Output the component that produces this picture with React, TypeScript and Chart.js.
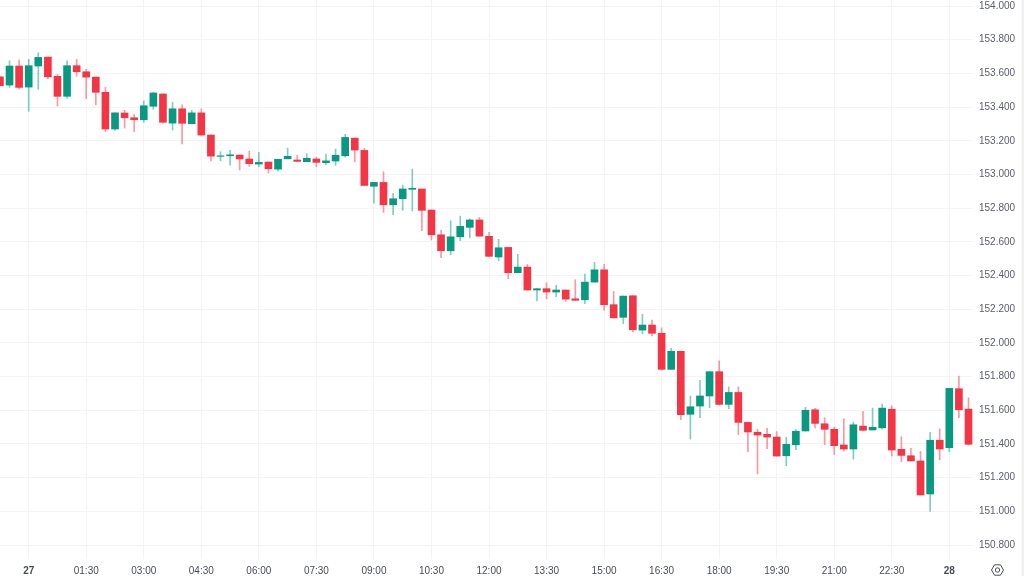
import React, { useEffect, useRef } from "react";
import { Chart, registerables } from "chart.js";

Chart.register(...registerables);

const firstCandleIndex = -3;
const opens = [153.580,153.531,153.644,153.519,153.644,153.697,153.583,153.464,153.646,153.610,153.578,153.488,153.270,153.365,153.337,153.325,153.405,153.478,153.305,153.390,153.301,153.366,153.234,153.108,153.111,153.115,153.092,153.062,153.074,153.032,153.093,153.086,153.076,153.092,153.070,153.080,153.111,153.216,153.143,152.930,152.953,152.820,152.856,152.912,152.914,152.789,152.642,152.547,152.630,152.686,152.730,152.633,152.510,152.567,152.417,152.450,152.314,152.322,152.302,152.314,152.262,152.256,152.361,152.434,152.227,152.152,152.280,152.076,152.106,152.057,151.843,151.950,151.576,151.625,151.685,151.829,151.635,151.706,151.528,151.469,151.457,151.441,151.330,151.395,151.477,151.603,151.520,151.487,151.394,151.370,151.506,151.483,151.496,151.606,151.368,151.330,151.299,151.103,151.422,151.378,151.728,151.607];
const closes = [153.527,153.644,153.517,153.646,153.695,153.580,153.464,153.646,153.610,153.578,153.488,153.270,153.366,153.337,153.325,153.408,153.484,153.310,153.390,153.304,153.366,153.234,153.109,153.111,153.117,153.092,153.064,153.072,153.034,153.090,153.108,153.078,153.096,153.072,153.081,153.114,153.220,153.145,152.935,152.953,152.820,152.856,152.914,152.918,152.787,152.642,152.547,152.630,152.692,152.730,152.634,152.514,152.565,152.417,152.450,152.314,152.322,152.302,152.314,152.260,152.253,152.361,152.434,152.227,152.149,152.278,152.078,152.106,152.057,151.843,151.950,151.574,151.621,151.685,151.829,151.635,151.706,151.528,151.471,151.453,151.441,151.328,151.398,151.475,151.600,151.522,151.487,151.390,151.370,151.514,151.481,151.499,151.613,151.364,151.332,151.299,151.097,151.422,151.370,151.730,151.603,151.398];
const highs = [153.580,153.675,153.679,153.684,153.723,153.697,153.594,153.675,153.684,153.624,153.578,153.517,153.366,153.381,153.357,153.436,153.489,153.478,153.428,153.414,153.381,153.390,153.234,153.135,153.143,153.115,153.139,153.131,153.074,153.090,153.157,153.114,153.123,153.102,153.121,153.151,153.238,153.216,153.155,152.953,153.016,152.888,152.937,153.032,152.914,152.789,152.668,152.725,152.753,152.737,152.745,152.656,152.615,152.567,152.526,152.467,152.322,152.357,152.342,152.314,152.375,152.409,152.478,152.467,152.306,152.278,152.280,152.170,152.136,152.090,151.968,151.950,151.685,151.778,151.829,151.894,151.738,151.738,151.528,151.487,151.493,151.473,151.439,151.487,151.618,151.612,151.556,151.500,151.550,151.530,151.594,151.613,151.637,151.627,151.443,151.374,151.356,151.469,151.490,151.730,151.803,151.674];
const lows = [153.527,153.517,153.507,153.375,153.505,153.567,153.406,153.452,153.584,153.450,153.414,153.254,153.262,153.276,153.254,153.310,153.387,153.305,153.264,153.181,153.301,153.234,153.081,153.081,153.056,153.026,153.048,153.046,153.009,153.020,153.093,153.078,153.076,153.046,153.058,153.054,153.105,153.074,152.935,152.830,152.775,152.761,152.787,152.783,152.666,152.611,152.506,152.523,152.607,152.624,152.634,152.514,152.488,152.381,152.417,152.314,152.250,152.262,152.274,152.247,152.253,152.233,152.361,152.195,152.146,152.114,152.066,152.054,152.041,151.843,151.843,151.544,151.429,151.556,151.615,151.631,151.609,151.455,151.354,151.222,151.372,151.328,151.271,151.366,151.477,151.496,151.395,151.338,151.358,151.309,151.477,151.483,151.489,151.328,151.295,151.299,151.097,151.000,151.305,151.354,151.556,151.394];

const timeTickIndices = [0,6,12,18,24,30,36,42,48,54,60,66,72,78,84,90,96];
const timeTickLabels = ["27","01:30","03:00","04:30","06:00","07:30","09:00","10:30","12:00","13:30","15:00","16:30","18:00","19:30","21:00","22:30","28"];
const boldTimeLabels = ["27","28"];
const priceTicks = [150.8,151,151.2,151.4,151.6,151.8,152,152.2,152.4,152.6,152.8,153,153.2,153.4,153.6,153.8,154];

const UP = "#089981";
const DOWN = "#f23645";
const UP_WICK = "rgba(8,153,129,0.5)";
const DOWN_WICK = "rgba(242,54,69,0.5)";
const GRID = "#f3f4f6";
const FONT = "'Liberation Sans', Arial, sans-serif";

const decorations = {
  id: "decorations",
  afterDraw(chart: any) {
    const c = chart.ctx;
    const cx = 997.5, cy = 570, r = 6;
    c.save();
    c.fillStyle = "#f0f0f1";
    c.fillRect(1021.5, 0, 2.5, 576);
    c.strokeStyle = "#4a4e59";
    c.lineWidth = 1;
    c.beginPath();
    for (let a = 0; a < 6; a++) {
      const t = Math.PI / 3 * a;
      const x = cx + r * Math.cos(t), y = cy + r * Math.sin(t);
      if (a === 0) c.moveTo(x, y); else c.lineTo(x, y);
    }
    c.closePath();
    c.stroke();
    c.beginPath();
    c.arc(cx, cy, 2.2, 0, Math.PI * 2);
    c.stroke();
    c.restore();
  },
};

export default function App() {
  const ref = useRef<HTMLCanvasElement>(null);
  useEffect(() => {
    document.body.style.margin = "0";
    const xs = opens.map((_, k) => k + firstCandleIndex);
    const isUp = opens.map((o, k) => closes[k] >= o);
    const chart = new Chart(ref.current!, {
      type: "bar",
      data: {
        datasets: [
          {
            label: "body",
            data: xs.map((x, k) => ({ x, y: [opens[k], closes[k]] })) as any,
            backgroundColor: isUp.map((u) => (u ? UP : DOWN)),
            barThickness: 7,
            grouped: false,
            order: 1,
          } as any,
          {
            label: "wick",
            data: xs.map((x, k) => ({ x, y: [lows[k], highs[k]] })) as any,
            backgroundColor: isUp.map((u) => (u ? UP_WICK : DOWN_WICK)),
            barThickness: 1,
            grouped: false,
            order: 2,
          } as any,
        ],
      },
      options: {
        responsive: false,
        animation: false,
        layout: { padding: 0 },
        plugins: { legend: { display: false }, tooltip: { enabled: false } },
        scales: {
          x: {
            type: "linear",
            offset: false,
            min: -2.993,
            max: 98.47,
            afterBuildTicks: (s: any) => { s.ticks = timeTickIndices.map((value) => ({ value })); },
            afterFit: (s: any) => { s.height = 17; s.paddingLeft = 0; s.paddingRight = 0; s.paddingTop = 0; s.paddingBottom = 0; },
            grid: { color: GRID, drawTicks: false, offset: false },
            border: { display: false },
            ticks: {
              autoSkip: false,
              maxRotation: 0,
              padding: 6,
              color: "#4a4e59",
              callback: (v: any) => timeTickLabels[timeTickIndices.indexOf(Number(v))],
              font: (ctx: any) => {
                const lbl = timeTickLabels[timeTickIndices.indexOf(ctx.tick?.value)];
                return { family: FONT, size: 10, weight: boldTimeLabels.includes(lbl) ? "bold" : "normal" };
              },
            },
          },
          y: {
            type: "linear",
            position: "right",
            min: 150.717,
            max: 154.036,
            afterBuildTicks: (s: any) => { s.ticks = priceTicks.map((value) => ({ value })); },
            afterFit: (s: any) => { s.width = 51; s.paddingLeft = 0; s.paddingRight = 0; s.paddingTop = 0; s.paddingBottom = 0; },
            grid: { color: GRID, drawTicks: false },
            border: { display: false },
            ticks: {
              autoSkip: false,
              padding: 6,
              color: "#5a5e69",
              font: { family: FONT, size: 10 },
              callback: (v: any) => Number(v).toFixed(3),
            },
          },
        },
      } as any,
      plugins: [decorations],
    });
    return () => chart.destroy();
  }, []);
  return <canvas ref={ref} width={1024} height={576} style={{ display: "block" }} />;
}
